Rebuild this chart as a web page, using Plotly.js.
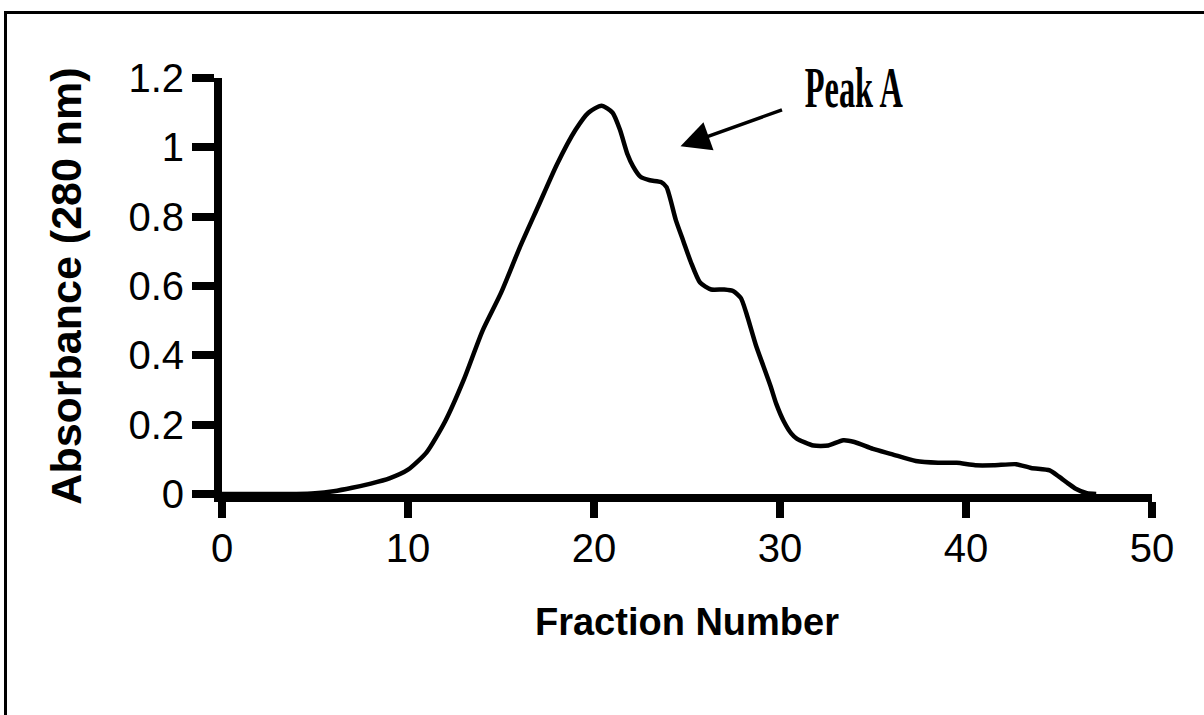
<!DOCTYPE html>
<html>
<head>
<meta charset="utf-8">
<script src="https://cdn.plot.ly/plotly-3.0.1.min.js"></script>
<style>
  html, body { margin: 0; padding: 0; background: #fff; overflow: hidden; }
  #chart { width: 1204px; height: 715px; }
  #frame { position: absolute; left: 4px; top: 11px; width: 1200px; height: 704px;
           border-left: 3px solid #000; border-top: 3px solid #000; pointer-events: none; box-sizing: border-box; }
</style>
</head>
<body>
<div id="chart"></div>
<div id="frame"></div>
<script>
// Fraction number (x) and absorbance at 280 nm (y)
const fraction = [0, 1, 2, 3, 4, 5, 6, 7, 8, 9, 10, 11, 12, 13, 14, 15, 16, 17, 18, 19, 19.7, 20.4,
  21, 21.4, 21.8, 22.1, 22.5, 23, 23.6, 23.9, 24.4, 24.8, 25.2, 25.7, 26.3, 27, 27.5, 27.9, 28.2,
  28.7, 29.1, 29.5, 29.8, 30.2, 30.6, 30.9, 31.8, 32.6, 33.4, 34, 35, 36, 37.3, 38.5, 39.5, 40.5,
  41.5, 42.7, 43.5, 44.5, 45, 45.5, 45.9, 46.5, 47];
const absorbance = [0, 0, 0, 0, 0, 0.002, 0.008, 0.018, 0.03, 0.045, 0.07, 0.12, 0.21, 0.33, 0.47, 0.58, 0.71, 0.83, 0.95, 1.05, 1.10, 1.12,
  1.10, 1.05, 0.98, 0.945, 0.915, 0.905, 0.90, 0.885, 0.79, 0.73, 0.67, 0.61, 0.59, 0.59, 0.585, 0.565, 0.52,
  0.43, 0.37, 0.31, 0.26, 0.21, 0.175, 0.16, 0.14, 0.14, 0.155, 0.15, 0.13, 0.115, 0.095, 0.09, 0.09, 0.083,
  0.083, 0.086, 0.075, 0.068, 0.05, 0.03, 0.015, 0.002, 0];
const xTicks = [0, 10, 20, 30, 40, 50];
const yTicks = [0, 0.2, 0.4, 0.6, 0.8, 1, 1.2];
const yTickLabels = ['0', '0.2', '0.4', '0.6', '0.8', '1', '1.2'];
const peakLabel = 'Peak A';
const peakArrowTip = {x: 24.65, y: 1.003};
const peakLabelPos = {x: 33.98, y: 1.17};

const trace = {
  x: fraction, y: absorbance, type: 'scatter', mode: 'lines',
  line: {color: '#000', width: 4.5, shape: 'spline', smoothing: 0.6},
  hoverinfo: 'x+y', cliponaxis: false
};

const layout = {
  width: 1204, height: 715,
  margin: {l: 222, r: 52, t: 78, b: 221},
  paper_bgcolor: '#fff', plot_bgcolor: '#fff',
  showlegend: false,
  font: {family: 'Liberation Sans, Arial, sans-serif', color: '#000'},
  xaxis: {
    range: [0, 50], tickvals: xTicks, ticktext: xTicks.map(String),
    showgrid: false, zeroline: false, showline: true, linecolor: '#000', linewidth: 8,
    ticks: 'outside', ticklen: 16, tickwidth: 8, tickcolor: '#000',
    tickfont: {size: 40, color: '#000'},
    ticklabelstandoff: -4,
    title: {text: 'Fraction Number', font: {size: 38, weight: 'bold', color: '#000'}, standoff: 42}
  },
  yaxis: {
    range: [0, 1.2], tickvals: yTicks, ticktext: yTickLabels,
    showgrid: false, zeroline: false, showline: true, linecolor: '#000', linewidth: 8,
    ticks: 'outside', ticklen: 22, tickwidth: 8, tickcolor: '#000',
    tickfont: {size: 40, color: '#000'},
    title: {text: 'Absorbance (280 nm)', font: {size: 43, weight: 'bold', color: '#000'}, standoff: 36}
  },
  annotations: [
    {x: peakArrowTip.x, y: peakArrowTip.y, xref: 'x', yref: 'y', text: '', showarrow: true,
     ax: 103, ay: -37, arrowhead: 2, arrowsize: 1.7, arrowwidth: 3.5, arrowcolor: '#000'},
    {x: peakLabelPos.x, y: peakLabelPos.y, xref: 'x', yref: 'y', text: peakLabel, showarrow: false,
     font: {family: 'Liberation Serif, Times New Roman, serif', size: 56, weight: 'bold', color: '#000'}}
  ]
};

Plotly.newPlot('chart', [trace], layout, {displayModeBar: false, staticPlot: true}).then(function () {
  document.querySelectorAll('.annotation-text').forEach(function (t) {
    if (t.textContent === peakLabel) {
      t.setAttribute('textLength', '98');
      t.setAttribute('lengthAdjust', 'spacingAndGlyphs');
    }
  });
});
</script>
</body>
</html>
